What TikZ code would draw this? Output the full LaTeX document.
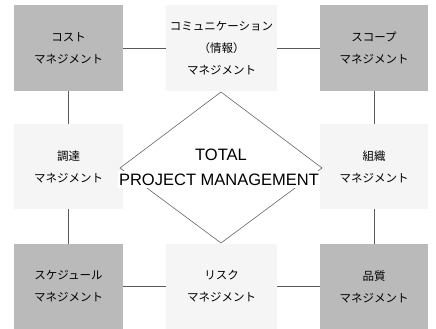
\documentclass[tikz,border=0pt]{standalone}
\usepackage{fontspec}
\setmainfont{Liberation Sans}
\newfontfamily\jpfont{Noto Sans CJK JP}
\begin{document}
\begin{tikzpicture}[x=1pt,y=-1pt,
  darkbox/.style={fill=black!27, inner sep=0pt, minimum width=109pt, minimum height=86pt, align=center, font=\jpfont\fontsize{11.5}{22}\selectfont},
  lightbox/.style={fill=black!4, inner sep=0pt, minimum width=111pt, minimum height=86pt, align=center, font=\jpfont\fontsize{11.5}{22}\selectfont},
  link/.style={draw=black!65, line width=0.7pt},
  dia/.style={draw=black!60, line width=0.6pt},
  title/.style={font=\fontsize{16.5}{24}\selectfont, inner sep=0pt}]
\useasboundingbox (0,0) rectangle (436,329);
% boxes
\node[darkbox] (cost) at (68.5,48) {コスト\\マネジメント};
\node[lightbox] (comm) at (221.5,48) {コミュニケーション\\（情報）\\マネジメント};
\node[darkbox, minimum width=108pt] (scope) at (374,48) {スコープ\\マネジメント};
\node[lightbox, minimum width=109pt, minimum height=85pt] (proc) at (68.5,166.5) {調達\\マネジメント};
\node[lightbox, minimum width=108pt, minimum height=85pt] (org) at (374,166.5) {組織\\マネジメント};
\node[darkbox, minimum height=85pt] (sched) at (68.5,286.5) {スケジュール\\マネジメント};
\node[lightbox, minimum height=85pt] (risk) at (221.5,286.5) {リスク\\マネジメント};
\node[darkbox, minimum width=108pt, minimum height=85pt] (qual) at (374,286.5) {品質\\マネジメント};
% links
\draw[link] (cost.east) -- (comm.west);
\draw[link] (comm.east) -- (scope.west);
\draw[link] (cost.south) -- (proc.north);
\draw[link] (proc.south) -- (sched.north);
\draw[link] (scope.south) -- (org.north);
\draw[link] (org.south) -- (qual.north);
\draw[link] (sched.east) -- (risk.west);
\draw[link] (risk.east) -- (qual.west);
% diamond
\coordinate (dt) at (221,92);
\coordinate (dr) at (322,168);
\coordinate (db) at (221,243);
\coordinate (dl) at (120,168);
\draw[dia] (dt) -- (dr) -- (db) -- (dl) -- cycle;
\node[title] (t1) at (221,154.5) {TOTAL};
\node[title, fill=white, inner xsep=1pt, inner ysep=3pt] (t2) at (219,179.5) {PROJECT MANAGEMENT};
\end{tikzpicture}
\end{document}
